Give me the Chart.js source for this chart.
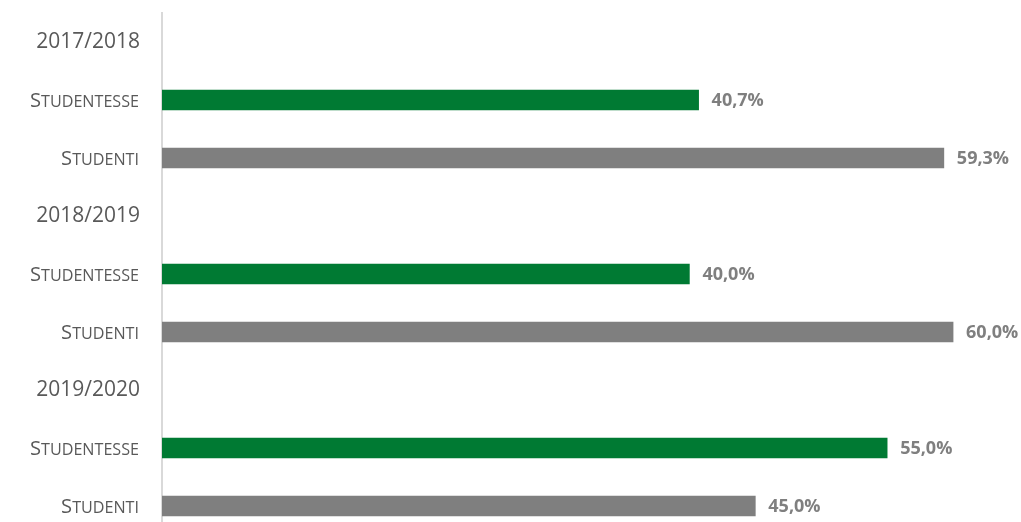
<!DOCTYPE html>
<html><head><meta charset="utf-8">
<script src="https://cdn.jsdelivr.net/npm/chart.js@4"></script>
<style>
html,body{margin:0;padding:0;background:#fff;overflow:hidden;}
#wrap{position:relative;width:1021px;height:536px;}
</style></head>
<body><div id="wrap"><canvas id="c"></canvas></div>
<script>
const categories = ["2017/2018","Studentesse","Studenti","2018/2019","Studentesse","Studenti","2019/2020","Studentesse","Studenti"];
const studentesse = [null,40.7,null,null,40.0,null,null,55.0,null];
const studenti = [null,null,59.3,null,null,60.0,null,null,45.0];
const xMin = 0, xMax = 65;

const FAMILY = '"Open Sans", Lato, sans-serif';
const isYear = (s) => /\d/.test(s);

const labelPlugin = {
  id:'valueLabels',
  afterDatasetsDraw(chart){
    const ctx = chart.ctx;
    ctx.save();
    ctx.font = 'bold 18px ' + FAMILY;
    ctx.fillStyle = '#7f7f7f';
    ctx.textBaseline = 'middle';
    ctx.textAlign = 'left';
    chart.data.datasets.forEach((ds,di)=>{
      const meta = chart.getDatasetMeta(di);
      meta.data.forEach((el,i)=>{
        const v = ds.data[i];
        if (v === null || v === undefined) return;
        ctx.fillText(v.toFixed(1).replace('.',',')+'%', el.x + 13, el.y + 1);
      });
    });
    // small-caps category labels
    const y = chart.scales.y;
    const rightX = 139;
    const bigFont = '20px ' + FAMILY, smallFont = '16px ' + FAMILY;
    const measure = (lbl) => {
      ctx.font = bigFont; const w1 = ctx.measureText(lbl.charAt(0).toUpperCase()).width;
      ctx.font = smallFont; const w2 = ctx.measureText(lbl.slice(1).toUpperCase()).width;
      return [w1, w2];
    };
    const ref = measure('Studentesse');
    const sx = 109 / (ref[0] + ref[1]);
    ctx.fillStyle = '#595959';
    ctx.textBaseline = 'alphabetic';
    categories.forEach((lbl,i)=>{
      if (isYear(lbl)) return;
      const [w1, w2] = measure(lbl);
      const total = (w1 + w2) * sx;
      const py = y.getPixelForTick(i) + 7;
      ctx.save();
      ctx.translate(rightX - total, py);
      ctx.scale(sx, 1);
      ctx.textAlign = 'left';
      ctx.font = bigFont; ctx.fillText(lbl.charAt(0).toUpperCase(), 0, 0);
      ctx.font = smallFont; ctx.fillText(lbl.slice(1).toUpperCase(), w1, 0);
      ctx.restore();
    });
    ctx.restore();
  }
};

new Chart(document.getElementById('c'), {
  type:'bar',
  data:{
    labels: categories,
    datasets:[
      {label:'Studentesse', data:studentesse, backgroundColor:'#007a33', barThickness:20},
      {label:'Studenti', data:studenti, backgroundColor:'#7f7f7f', barThickness:20}
    ]
  },
  options:{
    indexAxis:'y',
    responsive:true,
    maintainAspectRatio:false,
    animation:false,
    layout:{padding:{top:13,right:2,left:0,bottom:1}},
    plugins:{legend:{display:false},tooltip:{enabled:false}},
    scales:{
      x:{display:false, min:xMin, max:xMax, stacked:true},
      y:{
        stacked:true,
        grid:{display:false, drawTicks:false},
        border:{display:true,color:'#d9d9d9',width:2},
        ticks:{
          padding:22,
          color:'#595959',
          callback:function(v,i){ const l = categories[i]; return isYear(l) ? l : ''; },
          font:{family:FAMILY, size:21}
        },
        afterFit(scale){ scale.width = 162; scale.paddingTop = 0; scale.paddingBottom = 0; }
      }
    }
  },
  plugins:[labelPlugin]
});
</script></body></html>
